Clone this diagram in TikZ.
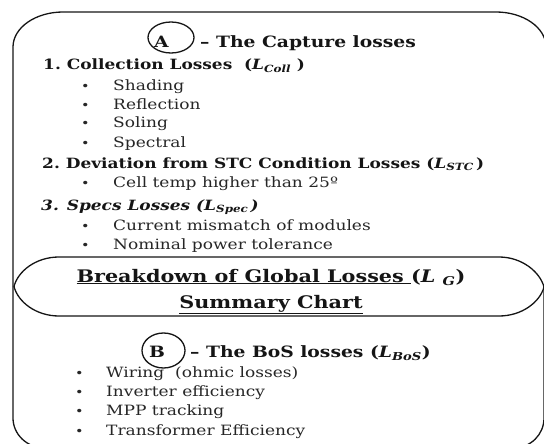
\documentclass[tikz,border=0pt]{standalone}
\usepackage{fontspec}
\setmainfont{DejaVu Serif}[FakeStretch=1.2]
\usetikzlibrary{shapes.geometric}
\definecolor{ink}{HTML}{151515}
\definecolor{body}{HTML}{262626}
% loss symbol: bold italic L with a bold italic subscript
\newcommand\lossym[1]{\textbf{\textit{L}}\textsubscript{\textbf{\textit{#1}}}}
\tikzset{
  frame/.style={draw=ink, line width=1.3pt},
  txt/.style={anchor=base west, inner sep=0pt, text=ink},
  head/.style={txt, font=\fontsize{14.15}{16}\selectfont\bfseries},
  sect/.style={txt, font=\fontsize{15.6}{17}\selectfont\bfseries},
  item/.style={txt, text=body, font=\fontsize{14.2}{16}\selectfont},
  dot/.style={txt, text=body, font=\fontsize{12}{13}\selectfont},
  title/.style={txt, anchor=base, font=\fontsize{17.3}{19}\selectfont\bfseries},
  tag/.style={draw=ink, line width=1.3pt, ellipse, inner sep=0pt},
}
\begin{document}
\begin{tikzpicture}[x=1pt, y=-1pt]
\useasboundingbox (0,0) rectangle (544,444);

% upper frame: capture losses
\draw[frame] (13,286) -- (13,47)
  .. controls (13,27.7) and (35.4,12) .. (63,12) -- (496,12)
  .. controls (523.6,12) and (546,27.7) .. (546,47) -- (546,286);
% lower frame: balance-of-system losses
\draw[frame] (13,286) -- (13,418)
  .. controls (13,434.6) and (27.3,448) .. (45,448) -- (513,448)
  .. controls (530.7,448) and (544,434.6) .. (544,418) -- (544,286);
% central title band
\draw[frame, fill=white] (59,257) -- (499,257)
  .. controls (522,257) and (540,272) .. (544,287)
  .. controls (540,302) and (522,316) .. (499,316) -- (59,316)
  .. controls (36,316) and (18,302) .. (14,286.5)
  .. controls (18,271) and (36,257) .. (59,257) -- cycle;

% section A
\node[tag, minimum width=46pt, minimum height=31pt] (circA) at (171,37.5) {};
\node[sect] (labA) at (154,48) {A};
\node[sect] (titA) at (200,48) {– The Capture losses};

\node[head] (h1) at (43,70) {1.\ Collection Losses\ \ (\lossym{Coll}\ )};
\node[dot] (b11) at (81,91) {•};  \node[item] (i11) at (113,91)  {Shading};
\node[dot] (b12) at (81,110) {•}; \node[item] (i12) at (113,110) {Reflection};
\node[dot] (b13) at (81,128) {•}; \node[item] (i13) at (113,128) {Soling};
\node[dot] (b14) at (81,147) {•}; \node[item] (i14) at (113,147) {Spectral};

\node[head] (h2) at (42,168) {2.\ Deviation from STC Condition Losses (\lossym{STC}\,)};
\node[dot] (b21) at (81,187) {•}; \node[item] (i21) at (113,187) {Cell temp higher than 25º};

\node[head, font=\fontsize{14.15}{16}\selectfont\bfseries\itshape] (h3) at (41,210) {3. Specs Losses (\lossym{Spec}\,)};
\node[dot] (b31) at (81,230) {•}; \node[item] (i31) at (113,230) {Current mismatch of modules};
\node[dot] (b32) at (81,249) {•}; \node[item] (i32) at (113,249) {Nominal power tolerance};

% title
\node[title] (t1) at (271,282)
  {\underline{Breakdown of Global Losses\ }(\textit{L}\ \textsubscript{\textit{G}})};
\node[title] (t2) at (271,308) {\underline{Summary Chart}};

% section B
\node[tag, minimum width=43pt, minimum height=35pt] (circB) at (163.5,350.5) {};
\node[sect] (labB) at (149,357) {B};
\node[sect] (titB) at (190,357) {– The BoS losses (\lossym{BoS})};
\node[dot] (c1) at (75,377) {•}; \node[item] (j1) at (106,377) {Wiring\ \ (ohmic losses)};
\node[dot] (c2) at (75,396) {•}; \node[item] (j2) at (106,396) {Inverter efficiency};
\node[dot] (c3) at (75,415) {•}; \node[item] (j3) at (106,415) {MPP tracking};
\node[dot] (c4) at (75,435) {•}; \node[item] (j4) at (106,435) {Transformer Efficiency};
\end{tikzpicture}
\end{document}
